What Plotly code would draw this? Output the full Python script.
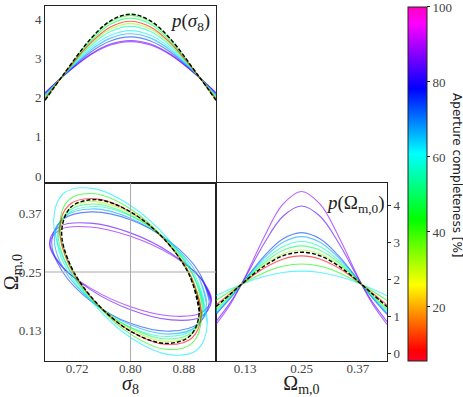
"""Corner plot: sigma_8 / Omega_m,0 forecasts coloured by aperture completeness."""

import plotly.graph_objects as go
from plotly.colors import sample_colorscale

# -- data --
# aperture completeness [%] of each forecast (drawn in this order)
completeness = [88, 84, 74, 67, 62, 56, 50, 43, 33, 8]

s8_true = 0.80
om_true = 0.25

# marginal p(sigma_8)
s8_grid = [0.672, 0.70, 0.74, 0.77, 0.80, 0.83, 0.86, 0.90, 0.928]
p_s8 = [
    [2.125, 2.560, 3.087, 3.341, 3.43, 3.341, 3.087, 2.560, 2.125],
    [2.115, 2.562, 3.105, 3.368, 3.46, 3.368, 3.105, 2.562, 2.115],
    [2.087, 2.567, 3.159, 3.448, 3.55, 3.448, 3.159, 2.567, 2.087],
    [2.063, 2.572, 3.206, 3.519, 3.63, 3.519, 3.206, 2.572, 2.063],
    [2.041, 2.576, 3.253, 3.590, 3.71, 3.590, 3.253, 2.576, 2.041],
    [2.010, 2.581, 3.317, 3.687, 3.82, 3.687, 3.317, 2.581, 2.010],
    [1.955, 2.592, 3.438, 3.873, 4.03, 3.873, 3.438, 2.592, 1.955],
    [1.938, 2.595, 3.478, 3.935, 4.10, 3.935, 3.478, 2.595, 1.938],
    [1.991, 2.585, 3.358, 3.750, 3.89, 3.750, 3.358, 2.585, 1.991],
    [1.975, 2.588, 3.392, 3.803, 3.95, 3.803, 3.392, 2.588, 1.975],
]
p_s8_full = [1.931, 2.597, 3.494, 3.961, 4.13, 3.961, 3.494, 2.597, 1.931]

# marginal p(Omega_m,0)
om_grid = [0.068, 0.10, 0.13, 0.17, 0.21, 0.25, 0.29, 0.33, 0.37, 0.40, 0.432]
p_om = [
    [0.777, 1.352, 2.063, 3.130, 4.020, 4.37, 4.020, 3.130, 2.063, 1.352, 0.777],
    [0.855, 1.400, 2.039, 2.957, 3.695, 3.98, 3.695, 2.957, 2.039, 1.400, 0.855],
    [1.048, 1.508, 1.991, 2.618, 3.086, 3.26, 3.086, 2.618, 1.991, 1.508, 1.048],
    [1.086, 1.528, 1.983, 2.564, 2.992, 3.15, 2.992, 2.564, 1.983, 1.528, 1.086],
    [1.553, 1.741, 1.900, 2.072, 2.182, 2.22, 2.182, 2.072, 1.900, 1.741, 1.553],
    [1.134, 1.552, 1.972, 2.499, 2.880, 3.02, 2.880, 2.499, 1.972, 1.552, 1.134],
    [1.182, 1.576, 1.963, 2.438, 2.777, 2.90, 2.777, 2.438, 1.963, 1.576, 1.182],
    [1.427, 1.688, 1.919, 2.178, 2.350, 2.41, 2.350, 2.178, 1.919, 1.688, 1.427],
    [1.229, 1.599, 1.954, 2.381, 2.682, 2.79, 2.682, 2.381, 1.954, 1.599, 1.229],
    [1.306, 1.634, 1.940, 2.297, 2.542, 2.63, 2.542, 2.297, 1.940, 1.634, 1.306],
]
p_om_full = [1.257, 1.612, 1.949, 2.350, 2.630, 2.73, 2.630, 2.350, 1.949, 1.612, 1.257]

# joint contours (points around each ellipse)
ell_s8 = [
    [0.921, 0.905, 0.861, 0.800, 0.740, 0.695, 0.679, 0.695, 0.740, 0.800, 0.861, 0.905],
    [0.921, 0.905, 0.861, 0.800, 0.740, 0.695, 0.679, 0.695, 0.740, 0.800, 0.861, 0.905],
    [0.918, 0.902, 0.859, 0.800, 0.741, 0.698, 0.682, 0.698, 0.741, 0.800, 0.859, 0.902],
    [0.914, 0.899, 0.857, 0.800, 0.743, 0.701, 0.686, 0.701, 0.743, 0.800, 0.857, 0.899],
    [0.915, 0.900, 0.858, 0.800, 0.743, 0.700, 0.685, 0.700, 0.743, 0.800, 0.858, 0.900],
    [0.910, 0.895, 0.855, 0.800, 0.745, 0.705, 0.690, 0.705, 0.745, 0.800, 0.855, 0.895],
    [0.908, 0.894, 0.854, 0.800, 0.746, 0.707, 0.692, 0.707, 0.746, 0.800, 0.854, 0.894],
    [0.906, 0.892, 0.853, 0.800, 0.747, 0.708, 0.694, 0.708, 0.747, 0.800, 0.853, 0.892],
    [0.905, 0.891, 0.853, 0.800, 0.748, 0.709, 0.695, 0.709, 0.748, 0.800, 0.853, 0.891],
    [0.906, 0.892, 0.853, 0.800, 0.747, 0.708, 0.694, 0.708, 0.747, 0.800, 0.853, 0.892],
]
ell_om = [
    [0.194, 0.238, 0.285, 0.323, 0.342, 0.337, 0.308, 0.264, 0.217, 0.179, 0.160, 0.166],
    [0.189, 0.237, 0.288, 0.330, 0.350, 0.344, 0.313, 0.266, 0.214, 0.173, 0.152, 0.158],
    [0.190, 0.251, 0.312, 0.357, 0.373, 0.357, 0.312, 0.251, 0.190, 0.145, 0.129, 0.145],
    [0.184, 0.248, 0.312, 0.360, 0.379, 0.363, 0.318, 0.254, 0.190, 0.142, 0.123, 0.139],
    [0.144, 0.226, 0.315, 0.386, 0.421, 0.411, 0.358, 0.276, 0.188, 0.116, 0.081, 0.091],
    [0.182, 0.248, 0.315, 0.365, 0.384, 0.368, 0.320, 0.254, 0.187, 0.137, 0.118, 0.134],
    [0.175, 0.243, 0.313, 0.366, 0.389, 0.374, 0.327, 0.259, 0.189, 0.136, 0.113, 0.128],
    [0.155, 0.232, 0.314, 0.379, 0.410, 0.398, 0.347, 0.270, 0.188, 0.123, 0.092, 0.104],
    [0.171, 0.241, 0.314, 0.370, 0.394, 0.380, 0.331, 0.261, 0.188, 0.133, 0.108, 0.122],
    [0.164, 0.237, 0.313, 0.373, 0.400, 0.387, 0.338, 0.265, 0.189, 0.129, 0.102, 0.115],
]
ell_s8_full = [0.903, 0.889, 0.852, 0.800, 0.749, 0.711, 0.697, 0.711, 0.749, 0.800, 0.852, 0.889]
ell_om_full = [0.169, 0.241, 0.315, 0.373, 0.398, 0.383, 0.333, 0.261, 0.187, 0.129, 0.104, 0.119]

# -- style --
CMIN, CMAX = 5.6, 100
gist_rainbow = [
    [0.0, "rgb(255,0,41)"], [0.03, "rgb(255,0,0)"], [0.215, "rgb(255,255,0)"],
    [0.4, "rgb(0,255,0)"], [0.586, "rgb(0,255,255)"], [0.77, "rgb(0,0,255)"],
    [0.954, "rgb(255,0,255)"], [1.0, "rgb(255,0,191)"],
]
SERIF = "Liberation Serif"
TICKFONT = {"family": SERIF, "size": 13, "color": "#444"}
LINE = "#222"


def colour(pct):
    return sample_colorscale(gist_rainbow, [(pct - CMIN) / (CMAX - CMIN)])[0]


def closed(vals):
    # wrap around so the spline joins smoothly
    return vals + vals[:2]


fig = go.Figure()

for i, pct in enumerate(completeness):
    col = colour(pct)
    common = dict(mode="lines", line={"color": col, "width": 1.1, "shape": "spline"},
                  opacity=0.62, showlegend=False, hoverinfo="skip")
    fig.add_trace(go.Scatter(x=s8_grid, y=p_s8[i], xaxis="x", yaxis="y", **common))
    fig.add_trace(go.Scatter(x=closed(ell_s8[i]), y=closed(ell_om[i]), xaxis="x2", yaxis="y2", **common))
    fig.add_trace(go.Scatter(x=om_grid, y=p_om[i], xaxis="x3", yaxis="y3", **common))

# full sample: black dashed
full = dict(mode="lines", line={"color": "black", "width": 1.4, "shape": "spline", "dash": "4px,2px"},
            showlegend=False, hoverinfo="skip")
fig.add_trace(go.Scatter(x=s8_grid, y=p_s8_full, xaxis="x", yaxis="y", **full))
fig.add_trace(go.Scatter(x=closed(ell_s8_full), y=closed(ell_om_full), xaxis="x2", yaxis="y2", **full))
fig.add_trace(go.Scatter(x=om_grid, y=p_om_full, xaxis="x3", yaxis="y3", **full))

# colour bar
fig.add_trace(go.Scatter(
    x=[None], y=[None], mode="markers", xaxis="x3", yaxis="y3", showlegend=False,
    marker={"color": [CMIN], "colorscale": gist_rainbow, "cmin": CMIN, "cmax": CMAX,
            "showscale": True,
            "colorbar": {"x": 0.881, "xanchor": "left", "xpad": 0, "ypad": 0, "thickness": 19,
                         "len": 0.892, "y": 0.0907, "yanchor": "bottom",
                         "tickvals": [20, 40, 60, 80, 100], "ticks": "outside", "ticklen": 3,
                         "ticklabeloverflow": "allow",
                         "tickcolor": LINE, "tickfont": TICKFONT,
                         "outlinewidth": 1, "outlinecolor": LINE}},
))

axis = dict(showline=True, mirror=True, linecolor=LINE, linewidth=1, showgrid=False,
            zeroline=False, ticks="", tickfont=TICKFONT)
title_font = {"family": SERIF, "size": 20, "color": "#222"}

fig.update_layout(
    width=463, height=397,
    margin={"l": 0, "r": 0, "t": 0, "b": 0},
    paper_bgcolor="white", plot_bgcolor="white",
    xaxis=dict(axis, domain=[0.0972, 0.4665], anchor="y", range=[0.672, 0.928], showticklabels=False),
    yaxis=dict(axis, domain=[0.539, 0.985], anchor="x", range=[-0.18, 4.34], tickvals=[0, 1, 2, 3, 4]),
    xaxis2=dict(axis, domain=[0.0972, 0.4665], anchor="y2", range=[0.672, 0.928],
                tickvals=[0.72, 0.80, 0.88], ticktext=["0.72", "0.80", "0.88"], ticklabelstandoff=-5,
                title={"text": "<i>σ</i><sub>8</sub>", "font": title_font, "standoff": 3}),
    yaxis2=dict(axis, domain=[0.0907, 0.539], anchor="x2", range=[0.068, 0.432],
                tickvals=[0.13, 0.25, 0.37], ticktext=["0.13", "0.25", "0.37"],
                title={"text": "Ω<sub>m,0</sub>", "font": title_font, "standoff": 4}),
    xaxis3=dict(axis, domain=[0.4665, 0.8359], anchor="y3", range=[0.068, 0.432],
                tickvals=[0.13, 0.25, 0.37], ticktext=["0.13", "0.25", "0.37"], ticklabelstandoff=-5,
                title={"text": "Ω<sub>m,0</sub>", "font": title_font, "standoff": 3}),
    yaxis3=dict(axis, domain=[0.0907, 0.539], anchor="x3", range=[-0.21, 4.6], side="right",
                tickvals=[0, 1, 2, 3, 4], ticks="outside", ticklen=3, tickcolor=LINE),
    shapes=[
        {"type": "line", "xref": "x2", "yref": "y2 domain", "x0": s8_true, "x1": s8_true,
         "y0": 0, "y1": 1, "line": {"color": "#aaa", "width": 1}},
        {"type": "line", "xref": "x2 domain", "yref": "y2", "x0": 0, "x1": 1,
         "y0": om_true, "y1": om_true, "line": {"color": "#aaa", "width": 1}},
    ],
    annotations=[
        {"text": "<i>p</i>(<i>σ</i><sub>8</sub>)", "xref": "paper", "yref": "paper",
         "x": 0.458, "y": 0.945, "xanchor": "right", "yanchor": "middle", "showarrow": False,
         "font": {"family": SERIF, "size": 19, "color": "#222"}},
        {"text": "<i>p</i>(Ω<sub>m,0</sub>)", "xref": "paper", "yref": "paper",
         "x": 0.836, "y": 0.487, "xanchor": "right", "yanchor": "middle", "showarrow": False,
         "font": {"family": SERIF, "size": 19, "color": "#222"}},
        {"text": "Aperture completeness [%]", "xref": "paper", "yref": "paper",
         "x": 0.987, "y": 0.559, "textangle": 90, "showarrow": False,
         "xanchor": "center", "yanchor": "middle",
         "font": {"family": "DejaVu Sans", "size": 12, "color": "#222"}},
    ],
)

# the page's default body margin would shift the figure by 8px
fig.write_html("out.html", config={"displayModeBar": False},
               post_script="document.body.style.margin='0px';")
